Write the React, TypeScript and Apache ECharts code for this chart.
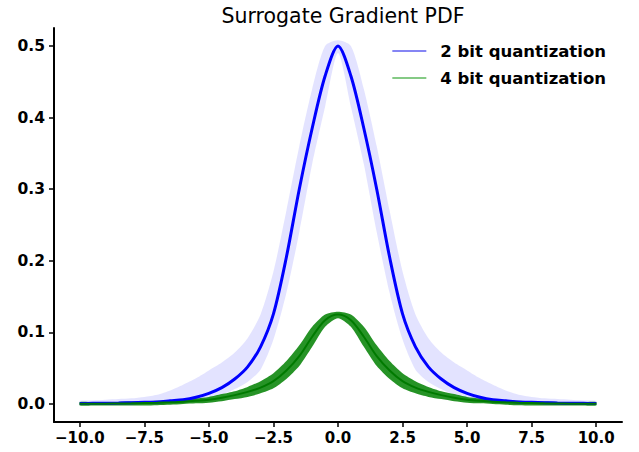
import React, { useEffect, useRef } from "react";
import * as echarts from "echarts";

const TITLE = "Surrogate Gradient PDF";
const SERIES_NAMES = ["2 bit quantization", "4 bit quantization"];

const xs = [
  -10, -9.5, -9, -8.5, -8, -7.5, -7, -6.5, -6, -5.5, -5, -4.5, -4, -3.5, -3, -2.5, -2, -1.5, -1, -0.5,
  0, 0.5, 1, 1.5, 2, 2.5, 3, 3.5, 4, 4.5, 5, 5.5, 6, 6.5, 7, 7.5, 8, 8.5, 9, 9.5, 10,
];

// 2 bit quantization: mean curve, and the upper / lower edge of its sample cloud
const blueMean = [
  0.0008, 0.001, 0.0012, 0.0015, 0.002, 0.0025, 0.003, 0.0045, 0.006, 0.0095, 0.015, 0.023, 0.035, 0.052, 0.08, 0.126, 0.205, 0.3, 0.385, 0.458,
  0.5, 0.458, 0.385, 0.3, 0.205, 0.126, 0.08, 0.052, 0.035, 0.023, 0.015, 0.0095, 0.006, 0.0045, 0.003, 0.0025, 0.002, 0.0015, 0.0012, 0.001, 0.0008,
];
const blueUpper = [
  0.0045, 0.005, 0.006, 0.007, 0.008, 0.01, 0.013, 0.019, 0.027, 0.036, 0.047, 0.058, 0.072, 0.092, 0.125, 0.185, 0.27, 0.36, 0.44, 0.5,
  0.508, 0.5, 0.44, 0.36, 0.27, 0.185, 0.125, 0.092, 0.072, 0.058, 0.047, 0.036, 0.027, 0.019, 0.013, 0.01, 0.008, 0.007, 0.006, 0.005, 0.0045,
];
const blueLower = [
  0, 0.0001, 0.0002, 0.0003, 0.0005, 0.0008, 0.0012, 0.002, 0.003, 0.005, 0.008, 0.013, 0.021, 0.031, 0.048, 0.09, 0.155, 0.24, 0.335, 0.415,
  0.49, 0.415, 0.335, 0.24, 0.155, 0.09, 0.048, 0.031, 0.021, 0.013, 0.008, 0.005, 0.003, 0.002, 0.0012, 0.0008, 0.0005, 0.0003, 0.0002, 0.0001, 0,
];

// 4 bit quantization
const greenMean = [
  0.0004, 0.0005, 0.0006, 0.0008, 0.001, 0.0014, 0.0018, 0.0024, 0.0032, 0.0045, 0.0062, 0.009, 0.0125, 0.017, 0.023, 0.032, 0.047, 0.067, 0.094, 0.117,
  0.125, 0.117, 0.094, 0.067, 0.047, 0.032, 0.023, 0.017, 0.0125, 0.009, 0.0062, 0.0045, 0.0032, 0.0024, 0.0018, 0.0014, 0.001, 0.0008, 0.0006, 0.0005, 0.0004,
];
const greenUpper = [
  0.003, 0.003, 0.003, 0.003, 0.0035, 0.004, 0.0045, 0.0055, 0.0065, 0.008, 0.01, 0.014, 0.018, 0.024, 0.032, 0.043, 0.06, 0.082, 0.108, 0.125,
  0.129, 0.125, 0.108, 0.082, 0.06, 0.043, 0.032, 0.024, 0.018, 0.014, 0.01, 0.008, 0.0065, 0.0055, 0.0045, 0.004, 0.0035, 0.003, 0.003, 0.003, 0.003,
];
const greenLower = [
  -0.002, -0.002, -0.002, -0.002, -0.002, -0.002, -0.0015, -0.001, 0, 0.001, 0.002, 0.004, 0.007, 0.01, 0.015, 0.022, 0.035, 0.053, 0.08, 0.108,
  0.12, 0.108, 0.08, 0.053, 0.035, 0.022, 0.015, 0.01, 0.007, 0.004, 0.002, 0.001, 0, -0.001, -0.0015, -0.002, -0.002, -0.002, -0.002, -0.002, -0.002,
];

const xTicks = [-10, -7.5, -5, -2.5, 0, 2.5, 5, 7.5, 10];
const yTicks = [0, 0.1, 0.2, 0.3, 0.4, 0.5];

const FONT = "DejaVu Sans";

const pairs = (vals: number[]) => xs.map((x, i) => [x, vals[i]]);

function bandSeries(upper: number[], lower: number[], fill: string) {
  return {
    type: "custom",
    silent: true,
    data: xs.map((x, i) => [x, lower[i], upper[i]]),
    encode: { x: 0, y: [1, 2] },
    renderItem: (params: any, api: any) => {
      if (params.dataIndex !== 0) return null;
      const pts: number[][] = [];
      for (let i = 0; i < xs.length; i++) pts.push(api.coord([xs[i], upper[i]]));
      for (let i = xs.length - 1; i >= 0; i--) pts.push(api.coord([xs[i], lower[i]]));
      return {
        type: "polygon",
        shape: { points: pts, smooth: 0.25 },
        style: { fill, stroke: "none" },
      };
    },
  };
}

export default function App() {
  const ref = useRef<HTMLDivElement>(null);
  useEffect(() => {
    if (!ref.current) return;
    const chart = echarts.init(ref.current, undefined, { renderer: "svg" });
    chart.setOption({
      animation: false,
      backgroundColor: "#ffffff",
      title: {
        text: TITLE,
        left: 338,
        top: 0,
        textAlign: "center",
        textStyle: { fontFamily: FONT, fontWeight: "normal", fontSize: 20.5, color: "#000" },
      },
      legend: {
        orient: "vertical",
        right: 28,
        top: 37,
        icon: "rect",
        itemWidth: 34,
        itemHeight: 1.3,
        itemGap: 9,
        textStyle: { fontFamily: FONT, fontWeight: "bold", fontSize: 16.5, color: "#000", lineHeight: 18, padding: [0, 0, 0, 9] },
        data: [
          { name: SERIES_NAMES[0], icon: "rect", itemStyle: { color: "#5c5cf0" } },
          { name: SERIES_NAMES[1], icon: "rect", itemStyle: { color: "#5cb85c" } },
        ],
      },
      grid: { left: 54, right: 17, top: 28, bottom: 30, containLabel: false },
      xAxis: {
        type: "value",
        min: -11,
        max: 11,
        splitLine: { show: false },
        axisLine: { show: true, onZero: false, lineStyle: { color: "#000", width: 2 } },
        axisTick: { show: true, customValues: xTicks, length: 5, lineStyle: { color: "#000", width: 1.5 } },
        axisLabel: {
          customValues: xTicks,
          margin: 8,
          fontFamily: FONT,
          fontWeight: "bold",
          fontSize: 15,
          color: "#000",
          formatter: (v: number) => v.toFixed(1).replace("-", "\u2212"),
        },
      },
      yAxis: {
        type: "value",
        min: -0.025,
        max: 0.525,
        splitLine: { show: false },
        axisLine: { show: true, onZero: false, lineStyle: { color: "#000", width: 2 } },
        axisTick: { show: true, customValues: yTicks, length: 5, lineStyle: { color: "#000", width: 1.5 } },
        axisLabel: {
          customValues: yTicks,
          margin: 9,
          fontFamily: FONT,
          fontWeight: "bold",
          fontSize: 15.5,
          color: "#000",
          formatter: (v: number) => v.toFixed(1),
        },
      },
      series: [
        bandSeries(blueUpper, blueLower, "rgba(40,40,255,0.13)"),
        {
          name: SERIES_NAMES[0], type: "line", data: pairs(blueMean), symbol: "none", smooth: 0.3,
          lineStyle: { color: "#0000ff", width: 3 }, itemStyle: { color: "#0000ff" },
        },
        bandSeries(greenUpper, greenLower, "rgba(0,128,0,0.85)"),
        {
          name: SERIES_NAMES[1], type: "line", data: pairs(greenMean), symbol: "none", smooth: 0.3,
          lineStyle: { color: "#007a00", width: 2 }, itemStyle: { color: "#008000" },
        },
      ],
    });
    return () => chart.dispose();
  }, []);
  return <div ref={ref} style={{ width: 639, height: 452, position: "absolute", left: 0, top: 0 }} />;
}
